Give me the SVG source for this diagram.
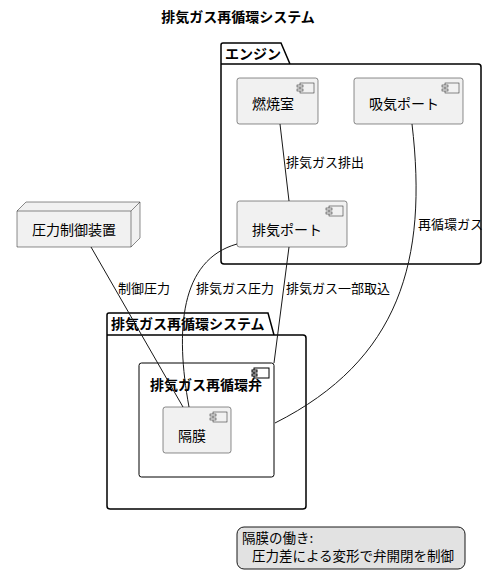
<svg xmlns="http://www.w3.org/2000/svg" width="490" height="588" viewBox="0 0 490 588">
<style>
text{font-family:"Noto Sans CJK JP","Noto Sans CJK SC",sans-serif;fill:#000}
.t{font-size:14px}
.n{font-size:13.5px}
.b{font-size:14px;font-weight:bold}
.lbl{font-size:13px}
.comp{fill:#f1f1f1;stroke:#181818;stroke-width:0.5}
.pkg{fill:none;stroke:#000;stroke-width:1.5}
.ico{fill:#f1f1f1;stroke:#181818;stroke-width:0.5}
.edge{fill:none;stroke:#181818;stroke-width:1}
</style>
<defs>
<g id="icon">
<rect class="ico" x="3" y="0" width="14" height="10"/>
<rect class="ico" x="0" y="2" width="6" height="2"/>
<rect class="ico" x="0" y="6" width="6" height="2"/>
</g>
</defs>
<text class="b" x="238" y="22" text-anchor="middle">排気ガス再循環システム</text>

<g id="engine">
<path class="pkg" d="M221,64 L221,45 Q221,43 223,43 L281,43 L290,64 L478,64 Q481,64 481,67 L481,261 Q481,264 478,264 L224,264 Q221,264 221,261 Z M221,64 L290,64"/>
<text class="b" x="225" y="59">エンジン</text>
</g>

<g id="combustion">
<rect class="comp" x="237" y="78" width="81" height="46" rx="2.5"/>
<use href="#icon" x="297" y="83"/>
<text class="t" x="252" y="109">燃焼室</text>
</g>

<g id="intake">
<rect class="comp" x="354" y="78" width="109" height="46" rx="2.5"/>
<use href="#icon" x="442" y="83"/>
<text class="t" x="369" y="109">吸気ポート</text>
</g>

<g id="exhaust">
<rect class="comp" x="237" y="201" width="110" height="46" rx="2.5"/>
<use href="#icon" x="326" y="206"/>
<text class="t" x="252" y="235">排気ポート</text>
</g>

<g id="pressure">
<polygon fill="#f1f1f1" stroke="#181818" stroke-width="0.5" points="17,211 26,202 140,202 140,238 131,247 17,247"/>
<polyline fill="none" stroke="#181818" stroke-width="0.5" points="17,211 131,211 140,202"/>
<line stroke="#181818" stroke-width="0.5" x1="131" y1="211" x2="131" y2="247"/>
<text class="t" x="32" y="235">圧力制御装置</text>
</g>

<g id="egr">
<path class="pkg" d="M107,335 L107,315 Q107,313 109,313 L268,313 L274,335 L303,335 Q306,335 306,338 L306,506 Q306,509 303,509 L110,509 Q107,509 107,506 Z M107,335 L274,335"/>
<text class="b" x="111" y="329">排気ガス再循環システム</text>
</g>

<g id="valve">
<rect fill="#fff" stroke="#000" stroke-width="1" x="139" y="363" width="135" height="114" rx="2.5"/>
<rect fill="#fff" stroke="#000" stroke-width="1" x="254" y="368" width="15" height="10"/>
<rect fill="#fff" stroke="#000" stroke-width="1" x="252" y="370" width="5" height="2"/>
<rect fill="#fff" stroke="#000" stroke-width="1" x="252" y="374" width="5" height="2"/>
<text class="b" x="206" y="390" text-anchor="middle">排気ガス再循環弁</text>
</g>

<g id="diaphragm">
<rect class="comp" x="163" y="407" width="68" height="46" rx="2.5"/>
<use href="#icon" x="210" y="412"/>
<text class="t" x="178" y="441">隔膜</text>
</g>

<g id="connectors">
<path class="edge" d="M280,124 L289,201"/>
<text class="lbl" x="286" y="167">排気ガス排出</text>
<path class="edge" d="M412,124 C428,260 400,360 275,423"/>
<text class="lbl" x="418" y="229">再循環ガス</text>
<path class="edge" d="M91,247 L183,407"/>
<text class="lbl" x="118" y="293">制御圧力</text>
<path class="edge" d="M237,244 C180,260 175,330 189,407"/>
<text class="lbl" x="196" y="293">排気ガス圧力</text>
<path class="edge" d="M289,247 L274,363"/>
<text class="lbl" x="286" y="293">排気ガス一部取込</text>
</g>

<g id="note">
<rect fill="#e2e2e2" stroke="#181818" stroke-width="1" x="237" y="527" width="228" height="42" rx="7"/>
<text class="n" x="242" y="543">隔膜の働き:</text>
<text class="n" x="252" y="561">圧力差による変形で弁開閉を制御</text>
</g>
</svg>
